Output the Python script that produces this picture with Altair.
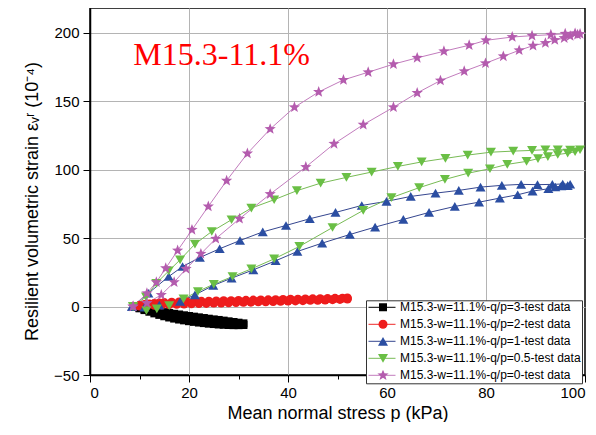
import altair as alt
import pandas as pd

# ---------------- data ----------------
names = [
    "M15.3-w=11.1%-q/p=3-test data",
    "M15.3-w=11.1%-q/p=2-test data",
    "M15.3-w=11.1%-q/p=1-test data",
    "M15.3-w=11.1%-q/p=0.5-test data",
    "M15.3-w=11.1%-q/p=0-test data",
]

# q/p = 3 (black squares)
p3_x = [9, 10, 11, 12, 13, 14, 15, 16, 17, 18, 19, 20, 21, 22, 23, 24, 25, 26, 27, 28, 29, 30, 31,
        31, 30, 29, 28, 27, 26, 25, 24, 23, 22, 21, 20, 19, 18, 17, 16, 15, 14, 13, 12, 11, 10]
p3_y = [0, -0.8, -1.5, -2.2, -2.9, -3.5, -4.1, -4.7, -5.3, -5.8, -6.4, -6.9, -7.4, -7.9, -8.4, -8.9,
        -9.4, -9.8, -10.3, -10.8, -11.3, -11.8, -12.3,
        -13.5, -13.6, -13.6, -13.5, -13.3, -13.1, -12.8, -12.5, -12.1, -11.7, -11.2, -10.7, -10.1,
        -9.5, -8.8, -8.0, -7.1, -6.1, -5.0, -3.8, -2.6, -1.3]

# q/p = 2 (red circles)
p2_x = [9, 10, 11, 12, 13, 14, 15, 16.5, 18, 19.5, 21, 22.5, 24, 25.5, 27, 28.5, 30, 31.5, 33, 34.5,
        36, 37.5, 39, 40.5, 42, 43.5, 45, 46.5, 48, 49.5, 51, 52,
        52, 50.5, 49, 47.5, 46, 44.5, 43, 41.5, 40, 38.5, 37, 35.5, 34, 32.5, 31, 29.5, 28, 26.5,
        25, 23.5, 22, 20.5, 19, 17.5, 16, 14.5, 13, 11.5, 10]
p2_y = [0, 0.8, 1.4, 1.9, 2.3, 2.6, 2.9, 3.1, 3.3, 3.5, 3.6, 3.8, 3.9, 4.0, 4.2, 4.3, 4.4, 4.5, 4.7,
        4.8, 4.9, 5.0, 5.1, 5.3, 5.4, 5.5, 5.6, 5.7, 5.8, 6.0, 6.1, 6.3,
        5.5, 5.2, 5.0, 4.8, 4.6, 4.5, 4.3, 4.1, 4.0, 3.8, 3.7, 3.5, 3.4, 3.2, 3.1, 2.9, 2.8, 2.6,
        2.5, 2.3, 2.2, 2.0, 1.8, 1.6, 1.4, 1.2, 0.9, 0.6, 0.3]

# q/p = 1 (blue up-triangles)
p1_x = [8.5, 11.8, 15.9, 18.7, 22.2, 26.2, 30.3, 34.9, 39.6, 44.4, 49.6, 54.9, 59.9, 64.8, 69.8,
        74.5, 78.9, 83.2, 87.1, 90.4, 93.4, 95.5, 97,
        96.5, 95.2, 94, 92.6, 89.4, 86.4, 82.8, 78.6, 73.7, 68.5, 63.3, 57.6, 52.5, 46.9, 41.9,
        37.5, 33, 28.6, 24.9, 21.2, 18.2, 14, 11, 8.5]
p1_y = [0, 9.7, 21.9, 29.2, 35.8, 42.2, 48.2, 54.5, 59.2, 64.1, 68.7, 73.8, 76.8, 80.4, 82.8, 84.8,
        87.2, 88.5, 89.2, 89, 89.2, 89.5, 89.3,
        88.3, 88, 87.3, 86, 84.3, 81.6, 79.2, 76.2, 73.1, 68.7, 63.6, 58, 52.6, 46.3, 40.2, 33.4,
        26.8, 20.7, 15.4, 8.5, 3.7, 1, -0.5, 0]

# q/p = 0.5 (green down-triangles)
p05_x = [8.7, 11.3, 13.4, 15.9, 18.2, 21.2, 24.6, 28.6, 32.6, 37.2, 41.8, 46.6, 51.8, 56.9, 62.2,
         67, 71.8, 76.3, 81, 85.5, 89.3, 92, 94.5, 97, 99,
         98, 96.5, 94.5, 92.5, 90.5, 88.2, 84.3, 80.8, 76.4, 71.7, 66.5, 60.9, 55.2, 49, 42.3,
         37.2, 32.6, 28.8, 25, 21.8, 18.9, 16, 13.5, 11.4, 8.7]
p05_y = [0, 7, 17, 26, 34.1, 45.6, 54.8, 63.4, 71.9, 78, 84.6, 90.1, 94.3, 98.2, 102.3, 105.6,
         108.2, 110.6, 112.7, 113.5, 114, 114.5, 114.5, 114.3, 114.5,
         113, 112, 111, 109.5, 108, 106, 103.8, 100.6, 97.4, 92.8, 86.8, 79.5, 70.2, 57.7, 43.9,
         34.8, 27.5, 21.9, 16.3, 11, 5.6, 0.7, -1.7, -2.9, 0]

# q/p = 0 (magenta stars)
p0_x = [8.7, 11.5, 13.4, 15.3, 17.7, 20.6, 23.9, 27.6, 31.8, 36.4, 41.3, 46.2, 51.2, 56.2, 61.3,
        66.1, 71.5, 76.6, 80, 85.3, 89.3, 93.1, 96, 98, 99,
        98.5, 97, 95.8, 93.9, 92, 89.5, 86.7, 83.5, 79.9, 75.6, 70.8, 66.1, 61.3, 55.2, 49.3,
        43.6, 36.4, 30.2, 25.4, 22.4, 19.4, 17, 14.4, 11.5, 8.7]
p0_y = [0, 9.7, 17.8, 28, 40.9, 56, 73.1, 91.9, 111.8, 129.6, 145.5, 156.7, 165.5, 171.1, 177,
        181.6, 186.4, 190.8, 194.4, 196.8, 197.8, 198.5, 199.2, 199.5, 199,
        198.5, 197.5, 196, 194.6, 192.4, 190.5, 187.1, 182.7, 177.6, 171.8, 165, 156, 145.5,
        132.8, 118.8, 101.9, 82.1, 64.1, 49.5, 38.5, 27.5, 17.8, 8.5, 2.5, 0]

series_x = [p3_x, p2_x, p1_x, p05_x, p0_x]
series_y = [p3_y, p2_y, p1_y, p05_y, p0_y]

marker_colors = ["#000000", "#ee1c1c", "#2b4ea2", "#6abf45", "#b45cae"]
line_colors = ["#000000", "#ee2a2a", "#35468f", "#78bb55", "#c27cbd"]
star = ("M0,-1L0.247,-0.34L0.951,-0.309L0.4,0.13L0.588,0.809L0,0.42L-0.588,0.809"
        "L-0.4,0.13L-0.951,-0.309L-0.247,-0.34Z")
shapes = ["square", "circle", "triangle-up", "triangle-down", star]
sizes = [64, 81, 100, 100, 140]

label_text = ["M15.3-11.1%"]
label_x = [8.75]
label_y = [176.7]

x_ticks = [0, 10, 20, 30, 40, 50, 60, 70, 80, 90, 100]
y_ticks = [-50, -25, 0, 25, 50, 75, 100, 125, 150, 175, 200]

# ---------------- table ----------------
line_names = [n + " " for n in names]   # separate domain -> separate (box) legend
rows = []
for name, lname, xs, ys in zip(names, line_names, series_x, series_y):
    for i, (xv, yv) in enumerate(zip(xs, ys)):
        rows.append({"series": name, "series_l": lname, "p": xv, "e": yv, "order": i})
df = pd.DataFrame(rows)
df_lbl = pd.DataFrame({"t": label_text, "p": label_x, "e": label_y})

FONT = "Liberation Sans"

x_enc = alt.X(
    "p:Q",
    scale=alt.Scale(domain=[0, 100], nice=False, zero=False),
    axis=alt.Axis(
        values=x_ticks,
        title="Mean normal stress p (kPa)",
        labelExpr="datum.value % 20 === 0 ? datum.label : ''",
        tickSize={"condition": {"test": "datum.value % 20 === 0", "value": 7}, "value": 4},
        gridOpacity={"condition": {"test": "datum.value % 20 === 0 && datum.value > 0 && datum.value < 100",
                                   "value": 1}, "value": 0},
        labelPadding=3,
        titlePadding=4,
    ),
)
y_enc = alt.Y(
    "e:Q",
    scale=alt.Scale(domain=[-50, 218], nice=False, zero=False),
    axis=alt.Axis(
        values=y_ticks,
        title="Resilient volumetric strain εᵥʳ (10⁻⁴)",
        labelExpr="datum.value % 50 === 0 ? datum.label : ''",
        tickSize={"condition": {"test": "datum.value % 50 === 0", "value": 7}, "value": 4},
        gridOpacity={"condition": {"test": "datum.value % 50 === 0 && datum.value > -50",
                                   "value": 1}, "value": 0},
        labelPadding=4,
        titlePadding=12,
        titleY=193,
    ),
)

common_leg = dict(
    orient="none",
    title=None,
    padding=2,
    rowPadding=5,
    clipHeight=10,
    labelFont=FONT,
    labelFontSize=12,
    labelColor="black",
    labelLimit=300,
    legendY=292.3,
)

lines = alt.Chart(df).mark_line(strokeWidth=1).encode(
    x=x_enc,
    y=y_enc,
    stroke=alt.Stroke(
        "series_l:N",
        scale=alt.Scale(domain=line_names, range=line_colors),
        legend=alt.Legend(
            legendX=276,
            symbolType="stroke",
            symbolSize=729,
            symbolStrokeWidth=1,
            labelOffset=3,
            labelOpacity=0,
            fillColor="white",
            strokeColor="#333333",
            zindex=1,
            **common_leg,
        ),
    ),
    order="order:Q",
)

shape_leg = alt.Legend(
    legendX=284,
    labelOffset=10,
    zindex=2,
    **common_leg,
)

points = alt.Chart(df).mark_point(filled=True, opacity=1, strokeWidth=0).encode(
    x="p:Q",
    y="e:Q",
    color=alt.Color("series:N", scale=alt.Scale(domain=names, range=marker_colors), legend=shape_leg),
    shape=alt.Shape("series:N", scale=alt.Scale(domain=names, range=shapes), legend=shape_leg),
    size=alt.Size("series:N", scale=alt.Scale(type="ordinal", domain=names, range=sizes), legend=shape_leg),
)

label = alt.Chart(df_lbl).mark_text(
    font="Liberation Serif", fontSize=32, color="#ff0000", align="left", baseline="alphabetic"
).encode(x="p:Q", y="e:Q", text="t:N")

chart = (
    alt.layer(lines, points, label)
    .properties(
        width=495,
        height=367,
        autosize=alt.AutoSizeParams(type="none"),
        padding={"left": 82, "top": 0, "right": 3, "bottom": 47},
    )
    .configure_view(stroke="black", strokeWidth=1.5)
    .configure_axis(
        domainColor="black",
        domainWidth=1.5,
        tickColor="black",
        tickWidth=1,
        gridColor="#b4b4b4",
        gridWidth=1,
        labelFont=FONT,
        labelFontSize=15,
        labelColor="black",
        titleFont=FONT,
        titleFontSize=18,
        titleFontWeight="normal",
        titleColor="black",
    )
)

chart.save("out.html", embed_options={"renderer": "svg", "actions": False})
